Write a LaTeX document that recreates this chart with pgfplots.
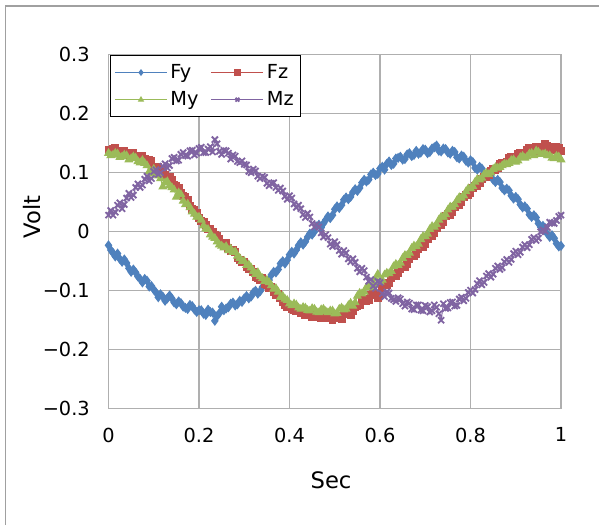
\documentclass[border=0pt]{standalone}
\usepackage{fontspec}
\setmainfont{DejaVu Sans}
\usepackage{pgfplots}
\usepackage{pgfplotstable}
\pgfplotsset{compat=1.18}

\definecolor{cFy}{RGB}{79,129,189}
\definecolor{cFz}{RGB}{192,80,77}
\definecolor{cMy}{RGB}{155,187,89}
\definecolor{cMz}{RGB}{128,100,162}
\definecolor{gridgray}{RGB}{175,175,175}
\definecolor{framegray}{RGB}{160,160,160}

% sensor signals, one row every 0.005 s
\pgfplotstableread{
x Fy Fz My Mz
0.000 -0.023 0.138 0.133 0.028
0.005 -0.031 0.137 0.129 0.036
0.010 -0.036 0.140 0.130 0.028
0.015 -0.042 0.141 0.133 0.033
0.020 -0.037 0.136 0.132 0.045
0.025 -0.046 0.133 0.126 0.049
0.030 -0.051 0.136 0.127 0.039
0.035 -0.047 0.137 0.130 0.046
0.040 -0.053 0.132 0.129 0.057
0.045 -0.062 0.130 0.122 0.065
0.050 -0.068 0.134 0.124 0.058
0.055 -0.064 0.133 0.127 0.062
0.060 -0.069 0.128 0.125 0.075
0.065 -0.076 0.126 0.119 0.081
0.070 -0.080 0.129 0.117 0.075
0.075 -0.086 0.128 0.121 0.079
0.080 -0.080 0.123 0.116 0.089
0.085 -0.083 0.118 0.112 0.094
0.090 -0.093 0.121 0.102 0.086
0.095 -0.092 0.119 0.099 0.090
0.100 -0.098 0.110 0.106 0.102
0.105 -0.103 0.104 0.098 0.105
0.110 -0.111 0.109 0.095 0.097
0.115 -0.106 0.101 0.090 0.100
0.120 -0.110 0.105 0.076 0.111
0.125 -0.117 0.096 0.083 0.115
0.130 -0.113 0.089 0.085 0.108
0.135 -0.108 0.092 0.078 0.112
0.140 -0.113 0.087 0.075 0.124
0.145 -0.120 0.079 0.071 0.126
0.150 -0.123 0.078 0.059 0.120
0.155 -0.118 0.074 0.066 0.121
0.160 -0.121 0.065 0.063 0.131
0.165 -0.127 0.060 0.052 0.134
0.170 -0.129 0.058 0.046 0.129
0.175 -0.131 0.053 0.047 0.128
0.180 -0.124 0.043 0.041 0.137
0.185 -0.126 0.038 0.034 0.138
0.190 -0.132 0.037 0.030 0.130
0.195 -0.136 0.032 0.025 0.133
0.200 -0.133 0.023 0.025 0.141
0.205 -0.133 0.018 0.020 0.143
0.210 -0.139 0.017 0.010 0.134
0.215 -0.141 0.012 0.005 0.134
0.220 -0.132 0.004 0.004 0.140
0.225 -0.136 0.004 -0.005 0.144
0.230 -0.137 -0.001 -0.009 0.135
0.235 -0.151 -0.006 -0.011 0.156
0.240 -0.143 -0.008 -0.017 0.149
0.245 -0.138 -0.012 -0.022 0.136
0.250 -0.127 -0.019 -0.024 0.131
0.255 -0.133 -0.024 -0.027 0.138
0.260 -0.130 -0.019 -0.025 0.137
0.265 -0.128 -0.027 -0.032 0.133
0.270 -0.122 -0.032 -0.029 0.123
0.275 -0.120 -0.031 -0.035 0.130
0.280 -0.125 -0.035 -0.034 0.128
0.285 -0.123 -0.044 -0.041 0.119
0.290 -0.117 -0.048 -0.045 0.117
0.295 -0.119 -0.052 -0.050 0.120
0.300 -0.113 -0.051 -0.050 0.114
0.305 -0.109 -0.060 -0.057 0.113
0.310 -0.113 -0.064 -0.056 0.102
0.315 -0.110 -0.063 -0.061 0.100
0.320 -0.103 -0.068 -0.067 0.106
0.325 -0.100 -0.076 -0.072 0.103
0.330 -0.105 -0.078 -0.069 0.094
0.335 -0.101 -0.082 -0.076 0.090
0.340 -0.094 -0.079 -0.079 0.094
0.345 -0.087 -0.088 -0.084 0.092
0.350 -0.086 -0.091 -0.082 0.082
0.355 -0.082 -0.096 -0.086 0.078
0.360 -0.073 -0.093 -0.091 0.082
0.365 -0.068 -0.103 -0.097 0.083
0.370 -0.069 -0.107 -0.096 0.075
0.375 -0.064 -0.106 -0.102 0.070
0.380 -0.054 -0.112 -0.111 0.074
0.385 -0.050 -0.119 -0.109 0.069
0.390 -0.054 -0.124 -0.114 0.060
0.395 -0.048 -0.128 -0.116 0.055
0.400 -0.039 -0.125 -0.122 0.061
0.405 -0.034 -0.131 -0.125 0.057
0.410 -0.037 -0.133 -0.122 0.047
0.415 -0.031 -0.135 -0.124 0.041
0.420 -0.023 -0.132 -0.129 0.045
0.425 -0.018 -0.137 -0.131 0.039
0.430 -0.022 -0.138 -0.128 0.029
0.435 -0.017 -0.141 -0.129 0.024
0.440 -0.009 -0.136 -0.133 0.031
0.445 -0.003 -0.138 -0.134 0.025
0.450 -0.005 -0.144 -0.130 0.014
0.455 0.000 -0.145 -0.131 0.008
0.460 0.009 -0.141 -0.136 0.012
0.465 0.012 -0.142 -0.137 0.008
0.470 0.007 -0.146 -0.132 -0.002
0.475 0.014 -0.147 -0.131 -0.009
0.480 0.020 -0.140 -0.135 -0.005
0.485 0.026 -0.145 -0.137 -0.010
0.490 0.023 -0.146 -0.134 -0.021
0.495 0.028 -0.149 -0.134 -0.025
0.500 0.038 -0.145 -0.139 -0.017
0.505 0.043 -0.143 -0.138 -0.022
0.510 0.040 -0.146 -0.131 -0.032
0.515 0.045 -0.148 -0.129 -0.038
0.520 0.054 -0.139 -0.132 -0.032
0.525 0.058 -0.137 -0.131 -0.036
0.530 0.055 -0.140 -0.125 -0.046
0.535 0.059 -0.141 -0.121 -0.051
0.540 0.067 -0.134 -0.126 -0.046
0.545 0.072 -0.128 -0.120 -0.052
0.550 0.069 -0.126 -0.109 -0.062
0.555 0.074 -0.125 -0.104 -0.068
0.560 0.083 -0.118 -0.105 -0.062
0.565 0.088 -0.114 -0.102 -0.066
0.570 0.085 -0.118 -0.094 -0.077
0.575 0.088 -0.116 -0.091 -0.084
0.580 0.097 -0.107 -0.095 -0.081
0.585 0.100 -0.104 -0.090 -0.092
0.590 0.096 -0.106 -0.080 -0.096
0.595 0.098 -0.112 -0.072 -0.084
0.600 0.107 -0.107 -0.085 -0.086
0.605 0.110 -0.095 -0.082 -0.105
0.610 0.105 -0.088 -0.073 -0.110
0.615 0.115 -0.091 -0.070 -0.102
0.620 0.119 -0.087 -0.071 -0.104
0.625 0.113 -0.078 -0.067 -0.113
0.630 0.115 -0.074 -0.059 -0.115
0.635 0.124 -0.075 -0.055 -0.118
0.640 0.125 -0.070 -0.057 -0.112
0.645 0.127 -0.063 -0.053 -0.114
0.650 0.122 -0.060 -0.045 -0.122
0.655 0.123 -0.060 -0.040 -0.126
0.660 0.131 -0.055 -0.040 -0.119
0.665 0.133 -0.046 -0.036 -0.121
0.670 0.128 -0.042 -0.028 -0.131
0.675 0.130 -0.042 -0.024 -0.132
0.680 0.137 -0.037 -0.025 -0.124
0.685 0.132 -0.029 -0.021 -0.124
0.690 0.134 -0.025 -0.013 -0.133
0.695 0.140 -0.026 -0.008 -0.134
0.700 0.139 -0.021 -0.008 -0.125
0.705 0.133 -0.012 -0.004 -0.127
0.710 0.135 -0.007 0.004 -0.136
0.715 0.141 -0.007 0.009 -0.134
0.720 0.143 -0.002 0.008 -0.124
0.725 0.146 0.006 0.012 -0.128
0.730 0.137 0.011 0.020 -0.139
0.735 0.136 0.012 0.025 -0.150
0.740 0.141 0.017 0.025 -0.122
0.745 0.140 0.026 0.029 -0.130
0.750 0.134 0.030 0.037 -0.129
0.755 0.132 0.029 0.042 -0.120
0.760 0.137 0.033 0.042 -0.119
0.765 0.135 0.042 0.046 -0.126
0.770 0.126 0.046 0.053 -0.125
0.775 0.124 0.046 0.058 -0.114
0.780 0.129 0.050 0.057 -0.111
0.785 0.127 0.059 0.061 -0.117
0.790 0.120 0.063 0.068 -0.113
0.795 0.117 0.062 0.073 -0.103
0.800 0.121 0.066 0.073 -0.099
0.805 0.118 0.074 0.077 -0.104
0.810 0.108 0.078 0.084 -0.098
0.815 0.105 0.078 0.089 -0.088
0.820 0.110 0.082 0.088 -0.083
0.825 0.107 0.090 0.091 -0.090
0.830 0.098 0.093 0.097 -0.086
0.835 0.094 0.092 0.099 -0.075
0.840 0.098 0.096 0.097 -0.071
0.845 0.096 0.103 0.100 -0.077
0.850 0.088 0.106 0.106 -0.072
0.855 0.084 0.105 0.109 -0.062
0.860 0.088 0.107 0.108 -0.058
0.865 0.084 0.114 0.109 -0.064
0.870 0.074 0.117 0.112 -0.061
0.875 0.070 0.116 0.115 -0.051
0.880 0.073 0.118 0.114 -0.047
0.885 0.070 0.125 0.116 -0.052
0.890 0.061 0.127 0.121 -0.047
0.895 0.056 0.125 0.122 -0.037
0.900 0.059 0.127 0.118 -0.033
0.905 0.055 0.132 0.120 -0.039
0.910 0.046 0.134 0.126 -0.035
0.915 0.041 0.131 0.128 -0.026
0.920 0.043 0.133 0.125 -0.022
0.925 0.039 0.139 0.127 -0.027
0.930 0.029 0.141 0.132 -0.022
0.935 0.025 0.137 0.133 -0.013
0.940 0.028 0.137 0.129 -0.010
0.945 0.024 0.144 0.137 -0.015
0.950 0.014 0.143 0.135 -0.011
0.955 0.008 0.139 0.131 0.000
0.960 0.010 0.140 0.131 0.003
0.965 0.006 0.148 0.132 0.001
0.970 -0.004 0.146 0.129 0.007
0.975 -0.009 0.144 0.129 0.016
0.980 -0.006 0.140 0.125 0.015
0.985 -0.011 0.139 0.124 0.014
0.990 -0.020 0.143 0.128 0.019
0.995 -0.025 0.141 0.127 0.026
1.000 -0.024 0.136 0.122 0.028
}\signals

\begin{document}
\begin{tikzpicture}
% page of 599x525 px, 1 px = 0.75 pt
\path[use as bounding box] (0pt,0pt) rectangle (449.25pt,393.75pt);
\draw[framegray, line width=1.1pt] (4.125pt,0pt) -- (4.125pt,389.25pt) -- (449.25pt,389.25pt);

\begin{axis}[
  at={(81.375pt,87.15pt)}, anchor=south west,
  scale only axis, width=339.4pt, height=265.65pt,
  xmin=0, xmax=1, ymin=-0.3, ymax=0.3,
  xtick={0,0.2,0.4,0.6,0.8,1},
  xticklabels={0,0.2,0.4,0.6,0.8,1},
  ytick={-0.3,-0.2,-0.1,0,0.1,0.2,0.3},
  yticklabels={−0.3,−0.2,−0.1,0,0.1,0.2,0.3},
  major tick length=0pt,
  grid=major,
  major grid style={gridgray, line width=1pt},
  axis line style={gridgray, line width=1pt},
  tick label style={font=\fontsize{14.5}{16}\selectfont, inner sep=0pt},
  yticklabel style={anchor=east, xshift=-13.9pt},
  xticklabel style={anchor=north, yshift=-14pt},
  xlabel={Sec}, ylabel={Volt},
  label style={font=\fontsize{17}{20}\selectfont},
  xlabel style={at={(axis description cs:0.4917,-0.201)}, anchor=center},
  ylabel style={at={(axis description cs:-0.169,0.5415)}, anchor=center},
  clip=false,
  legend columns=2,
  legend cell align=left,
  legend style={at={(axis description cs:0.0033,0.9989)}, anchor=north west,
    draw=black, line width=0.75pt, fill=white,
    inner xsep=3pt, inner ysep=4.5pt, row sep=3.8pt,
    nodes={inner sep=2.25pt},
    font=\fontsize{14.5}{16}\selectfont,
    /tikz/every even column/.append style={column sep=7pt}},
  legend image code/.code={
    \draw[mark repeat=2,mark phase=2,#1,mark size=2pt] plot coordinates {(0pt,0pt) (19.5pt,0pt) (39pt,0pt)};},
]
\addplot[cFy, line width=0.75pt, mark=diamond*, mark size=3.2pt, mark options={solid}]
  table[x=x, y=Fy] {\signals};
\addlegendentry{Fy}
\addplot[cFz, line width=0.75pt, mark=square*, mark size=2.6pt, mark options={solid}]
  table[x=x, y=Fz] {\signals};
\addlegendentry{Fz}
\addplot[cMy, line width=0.75pt, mark=triangle*, mark size=3.2pt, mark options={solid}]
  table[x=x, y=My] {\signals};
\addlegendentry{My}
\addplot[cMz, line width=0.75pt, mark=x, mark size=3.2pt, mark options={solid, line width=1.4pt}]
  table[x=x, y=Mz] {\signals};
\addlegendentry{Mz}
\end{axis}
\end{tikzpicture}
\end{document}
